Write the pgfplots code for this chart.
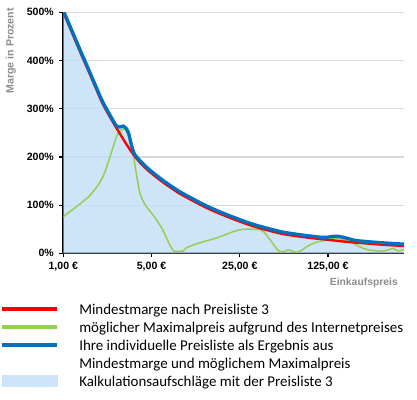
\documentclass[border=0pt]{standalone}
\usepackage{pgfplots}
\pgfplotsset{compat=1.18}
\usepackage{pgfplotstable}
\usepackage{fontspec}
\newfontfamily\legfont{Carlito}
\newfontfamily\tickfont{Liberation Sans}
\definecolor{cRed}{RGB}{255,0,0}
\definecolor{cGreen}{RGB}{146,208,80}
\definecolor{cBlue}{RGB}{0,112,192}
\definecolor{cFill}{RGB}{206,228,248}
\definecolor{cFillBase}{RGB}{194,221,246}
\definecolor{cGrid}{RGB}{217,217,217}
\definecolor{cLabel}{RGB}{140,140,140}

% Mindestmarge nach Preisliste 3
\pgfplotstableread{
price pct
1 500
1.1746 457
1.3797 414
1.6207 372
1.9565 322
2.1204 303
2.4235 276
2.8102 248
3.1860 225
3.6588 202
4.1617 185
4.7340 171
5.5072 157
6.4165 144
8.1033 126
10.432 110
14.234 92
20.280 75
25 66
30.33 58
37.38 51
55.01 40
83.59 33
125 28
172.5 24
237.96 21
328.3 18
500 15
}\redtab

% moeglicher Maximalpreis aufgrund des Internetpreises
\pgfplotstableread{
price pct
1 76
1.1746 90
1.3797 104
1.6207 120
1.9037 143
2.1307 168
2.4235 212
2.6692 245
3.0018 258
3.2903 245
3.5091 217
3.8341 158
4.0563 124
4.4676 100
5.1635 79
6.0651 51
6.8986 20
7.4767 5
8.1033 4
8.925 5
9.5185 12
12.117 22
16.45 32
23.44 47
28.43 50
36.20 49
38.61 45
44.62 24
50.76 5
55.90 4
60.59 7
65.66 4
70.03 2
77.13 6
84.95 14
101.41 23
129.09 29
149.2 31
186.9 24
237.96 10
302.9 5
350.2 5
411.3 10
445.8 5
500 8
}\greentab

% Ihre individuelle Preisliste
\pgfplotstableread{
price pct
1 504
1.1746 461
1.3797 418
1.6207 376
1.9565 326
2.1204 307
2.4235 280
2.6265 265
2.8012 262
2.9874 264
3.1352 260
3.2903 249
3.4254 230
3.5661 214
3.6588 206
4.1617 189
4.7340 175
5.5072 161
6.4165 148
8.1033 130
10.432 114
14.234 96
20.280 79
25 70
30.33 62
37.38 55
55.01 44
83.59 37
115.3 33
135.5 35
149.2 35.5
172.5 32
202.6 27
237.96 25
328.3 22
500 19
}\bluetab

\begin{document}
\begin{tikzpicture}
\useasboundingbox (0bp,0bp) rectangle (417bp,-400bp);
\begin{axis}[
  at={(63.3bp,-253.3bp)}, anchor=south west,
  scale only axis, width=340.7bp, height=241bp,
  xmode=log, log basis x=5,
  xmin=1, xmax=500, ymin=0, ymax=500,
  axis x line*=bottom, axis y line*=left,
  axis line style={black, line width=1.8bp, -},
  xtick={1,5,25,125},
  xticklabels={{1,00 €},{5,00 €},{25,00 €},{125,00 €}},
  minor xtick={},
  ytick={0,100,200,300,400,500},
  yticklabels={0\%,100\%,200\%,300\%,400\%,500\%},
  tick align=outside, major tick length=4bp,
  tick style={black, line width=1.2bp},
  ymajorgrids, grid style={cGrid, line width=1.2bp},
  xticklabel style={font=\tickfont\bfseries\fontsize{10.6}{12}\selectfont, text=black, yshift=-1.5bp},
  yticklabel style={font=\tickfont\bfseries\fontsize{10.6}{12}\selectfont, text=black, xshift=-2bp},
  ylabel={Marge in Prozent},
  xlabel={Einkaufspreis},
  every axis y label/.style={at={(rel axis cs:-0.1535,1.0178)}, rotate=90, anchor=east,
     font=\tickfont\bfseries\fontsize{10.6}{12}\selectfont, text=cLabel, inner sep=0pt},
  every axis x label/.style={at={(rel axis cs:0.9824,-0.122)}, anchor=east,
     font=\tickfont\bfseries\fontsize{10.4}{12}\selectfont, text=cLabel, inner sep=0pt},
  legend style={at={(rel axis cs:-0.1858,-0.2033)}, anchor=north west,
     draw=none, fill=none, inner sep=0pt, outer sep=0pt,
     column sep=20bp, row sep=0pt,
     font=\legfont\fontsize{15}{18}\selectfont,
     nodes={inner sep=0pt, text height=12bp, text depth=6bp}},
  legend cell align=left,
]
\addplot[draw=none, fill=cFillBase, fill opacity=0.8, smooth, forget plot]
  table[x=price, y=pct] {\bluetab} \closedcycle;
\addplot[cGreen, line width=1.5bp, smooth, forget plot] table[x=price, y=pct] {\greentab};
\addplot[cRed, line width=2.4bp, smooth, forget plot] table[x=price, y=pct] {\redtab};
\addplot[cBlue, line width=3.3bp, smooth, forget plot] table[x=price, y=pct] {\bluetab};

\addlegendimage{legend image code/.code={\draw[cRed, line width=4.3bp] (0bp,2bp) -- (55bp,2bp);}}
\addlegendentry{Mindestmarge nach Preisliste 3}
\addlegendimage{legend image code/.code={\draw[cGreen, line width=4.3bp] (0bp,2bp) -- (55bp,2bp);}}
\addlegendentry{möglicher Maximalpreis aufgrund des Internetpreises}
\addlegendimage{legend image code/.code={\draw[cBlue, line width=4.3bp] (0bp,2bp) -- (55bp,2bp);}}
\addlegendentry{Ihre individuelle Preisliste als Ergebnis aus}
\addlegendimage{legend image code/.code={}}
\addlegendentry{Mindestmarge und möglichem Maximalpreis}
\addlegendimage{legend image code/.code={\fill[cFill] (0bp,-3.4bp) rectangle (55bp,8.3bp);}}
\addlegendentry{Kalkulationsaufschläge mit der Preisliste 3}
\end{axis}
\end{tikzpicture}
\end{document}
